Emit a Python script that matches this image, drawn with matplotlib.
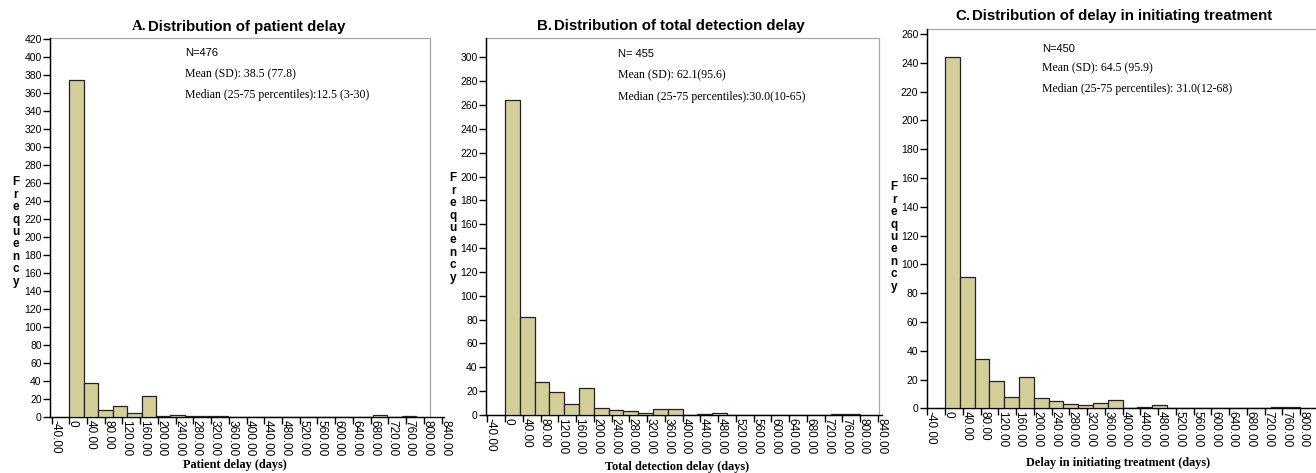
import numpy as np
import matplotlib
matplotlib.use("Agg")
import matplotlib.pyplot as plt
from matplotlib.patches import Rectangle
from matplotlib.transforms import ScaledTranslation

W, H = 1316, 473

# ---------------- data ----------------
a_bin_width = 32.6
a_counts = [375, 38, 8, 13, 5, 24, 1, 3, 2, 2, 1, 0, 0, 0, 0, 0, 0, 0, 0, 0, 0, 3, 0, 1]
b_bin_width = 400 / 12
b_counts = [264, 82, 28, 19, 9, 23, 6, 4, 3, 2, 5, 5, 0, 1, 2, 0, 0, 0, 0, 0, 0, 0, 1, 1]
c_bin_width = 400 / 12
c_counts = [244, 91, 34, 19, 8, 22, 7, 5, 3, 2, 4, 6, 0, 1, 2, 0, 0, 0, 0, 0, 0, 0, 1, 1]

x_ticks = list(range(-40, 841, 40))
x_ticklabels = ["0" if t == 0 else f"{t:.2f}" for t in x_ticks]

titles_prefix = ["A.", "B.", "C."]
titles = ["Distribution of patient delay",
          "Distribution of total detection delay",
          "Distribution of delay in initiating treatment"]
xlabels = ["Patient delay (days)", "Total detection delay (days)",
           "Delay in initiating treatment (days)"]
n_text = ["N=476", "N= 455", "N=450"]
mean_text = ["Mean (SD): 38.5 (77.8)", "Mean (SD): 62.1(95.6)", "Mean (SD): 64.5 (95.9)"]
median_text = ["Median (25-75 percentiles):12.5 (3-30)",
               "Median (25-75 percentiles):30.0(10-65)",
               "Median (25-75 percentiles): 31.0(12-68)"]
y_max_tick = [420, 300, 260]

# ---------------- layout (pixels) ----------------
panels = [
    dict(left=50, zero=69.3, ppd=0.4432, top=38.5, bottom=417.3, ytop=421, xright=845, frame_r=814),
    dict(left=486, zero=505.0, ppd=0.4440, top=38.3, bottom=415.0, ytop=316, xright=850, frame_r=843),
    dict(left=926.7, zero=945.0, ppd=0.4440, top=29.3, bottom=408.3, ytop=263.3, xright=870, frame_r=868),
]
# x where title prefix ends, y centre
title_pos = [(146, 27), (552, 26), (970, 16)]
xlabel_pos = [(235, 465), (677, 467), (1118, 463)]
freq_pos = [(16, 232), (453, 228), (894, 237)]
ann_pos = [(185, 53, 74, 95), (618, 54, 75, 97), (1042, 49, 68, 89)]

bar_color = "#d4cf99"
sans = "Liberation Sans"
serif = "Liberation Serif"

fig = plt.figure(figsize=(W / 100, H / 100), dpi=100)


def fx(x):
    return x / W


def fy(y):
    return 1 - y / H


counts_all = [a_counts, b_counts, c_counts]
widths_all = [a_bin_width, b_bin_width, c_bin_width]

for i, p in enumerate(panels):
    xleft = -(p["zero"] - p["left"]) / p["ppd"]
    right_px = p["zero"] + p["xright"] * p["ppd"]
    ax = fig.add_axes([fx(p["left"]), fy(p["bottom"]),
                       (right_px - p["left"]) / W, (p["bottom"] - p["top"]) / H])
    ax.set_xlim(xleft, p["xright"])
    ax.set_ylim(0, p["ytop"])

    counts = counts_all[i]
    w = widths_all[i]
    edges = np.arange(len(counts)) * w
    ax.bar(edges, counts, width=w, align="edge", color=bar_color,
           edgecolor="#222222", linewidth=0.9, zorder=3)

    for s in ["top", "right"]:
        ax.spines[s].set_visible(False)
    ax.spines["left"].set_linewidth(1.0)
    ax.spines["bottom"].set_linewidth(1.0)
    ax.add_patch(Rectangle((xleft, 0), p["frame_r"] - xleft, p["ytop"],
                           fill=False, edgecolor="#a8a8a8", linewidth=0.9,
                           zorder=1, clip_on=False))

    ax.set_xticks(x_ticks)
    ax.set_xticklabels(x_ticklabels, rotation=270, fontsize=8.5, family=sans)
    ax.set_yticks(list(range(0, y_max_tick[i] + 1, 20)))
    ax.set_yticklabels([str(v) for v in range(0, y_max_tick[i] + 1, 20)],
                       fontsize=7.5, family=sans)
    ax.tick_params(axis="y", direction="out", length=5, width=1, pad=1)
    ax.tick_params(axis="x", direction="out", length=5, width=1, pad=-3)
    shift = ScaledTranslation(3.5 / 100, 0, fig.dpi_scale_trans)
    for lab in ax.get_xticklabels():
        lab.set_transform(lab.get_transform() + shift)

    # title
    tx, ty = title_pos[i]
    fig.text(fx(tx), fy(ty), titles_prefix[i], ha="right", va="center",
             fontsize=10.8, fontweight="bold",
             family=serif if i == 0 else sans)
    fig.text(fx(tx + 2), fy(ty), titles[i], ha="left", va="center",
             fontsize=10.8, fontweight="bold", family=sans)
    # x label
    lx, ly = xlabel_pos[i]
    fig.text(fx(lx), fy(ly), xlabels[i], ha="center", va="center",
             fontsize=8.8, fontweight="bold", family=serif)
    # Frequency stacked
    qx, qy = freq_pos[i]
    fig.text(fx(qx), fy(qy), "\n".join("Frequency"), ha="center", va="center",
             fontsize=8.5, fontweight="bold", family=sans, linespacing=1.05)
    # annotations
    ax_, y1, y2, y3 = ann_pos[i]
    fig.text(fx(ax_), fy(y1), n_text[i], ha="left", va="center",
             fontsize=8, family=sans)
    fig.text(fx(ax_), fy(y2), mean_text[i], ha="left", va="center",
             fontsize=8.5, family=serif)
    fig.text(fx(ax_), fy(y3), median_text[i], ha="left", va="center",
             fontsize=8.5, family=serif)

fig.savefig("out.png", dpi=100)
